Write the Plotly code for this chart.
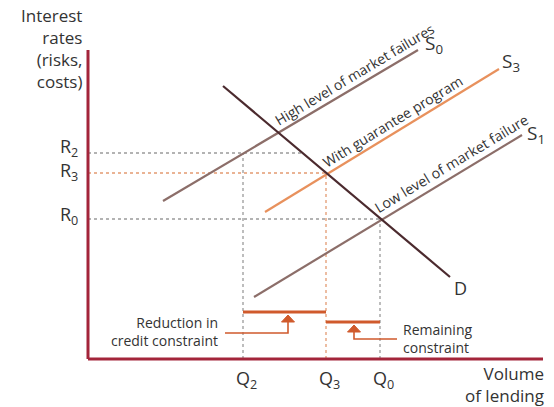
import plotly.graph_objects as go

# ---- data (arbitrary units: quantity on x, interest rate on y) ----
s0_x = [7.5, 33.0]
s0_y = [15.8, 30.9]
s3_x = [17.7, 41.1]
s3_y = [14.7, 29.0]
s1_x = [16.6, 43.4]
s1_y = [6.2, 22.4]
d_x = [13.5, 36.2]
d_y = [27.3, 8.2]

q_names = ["Q<sub>2</sub>", "Q<sub>3</sub>", "Q<sub>0</sub>"]
q_vals = [15.5, 23.8, 29.2]
r_names = ["R<sub>2</sub>", "R<sub>3</sub>", "R<sub>0</sub>"]
r_vals = [20.6, 18.6, 14.0]
r_ext = [21.5, 23.8, 29.2]          # horizontal guides end at demand curve
guide_colors = ["#9a9a9a", "#e39a72", "#9a9a9a"]

bar_levels = [4.7, 3.7]             # constraint bars
bar_from = [15.5, 23.8]
bar_to = [23.8, 29.2]

x_axis_end = 45.5
y_axis_end = 30.9

y_title = "Interest<br>rates<br>(risks,<br>costs)"
x_title = "Volume<br>of lending"

AX = "#a3253a"
BAR = "#d05a2c"
S_COL = "#8c6e69"
S3_COL = "#e8915d"
D_COL = "#4b2a2e"
TXT = "#333333"
FONT = "Open Sans"

fig = go.Figure()

def line(x, y, color, width, dash=None):
    fig.add_trace(go.Scatter(x=x, y=y, mode="lines", hoverinfo="skip",
                             line=dict(color=color, width=width, dash=dash)))

# guides
for i in range(3):
    line([0, r_ext[i]], [r_vals[i], r_vals[i]], guide_colors[i], 1.3, "3px,3px")
    line([q_vals[i], q_vals[i]], [0, r_vals[i]], guide_colors[i], 1.3, "3px,3px")

# curves
line(s0_x, s0_y, S_COL, 2.2)
line(s3_x, s3_y, S3_COL, 2.2)
line(s1_x, s1_y, S_COL, 2.2)
line(d_x, d_y, D_COL, 2.2)

# constraint bars
for i in range(2):
    line([bar_from[i], bar_to[i]], [bar_levels[i]] * 2, BAR, 3)

# arrows (elbow stems + triangle heads)
arrow_x = [20.0, 26.6]
arrow_tip = [4.4, 3.4]
arrow_corner = [2.6, 2.0]
arrow_end = [13.7, 30.9]
for i in range(2):
    base = arrow_tip[i] - 0.7
    line([arrow_end[i], arrow_x[i], arrow_x[i]], [arrow_corner[i], arrow_corner[i], base], BAR, 1.6)
    fig.add_trace(go.Scatter(x=[arrow_x[i] - 0.65, arrow_x[i] + 0.65, arrow_x[i], arrow_x[i] - 0.65],
                             y=[base, base, arrow_tip[i], base], mode="lines", fill="toself",
                             fillcolor=BAR, line=dict(color=BAR, width=1), hoverinfo="skip"))

# axes
line([0, 0], [0, y_axis_end], AX, 3)
line([0, x_axis_end], [0, 0], AX, 3)

def ann(x, y, text, size, xanchor="center", yanchor="middle", angle=0, align="center"):
    fig.add_annotation(x=x, y=y, text=text, showarrow=False, xanchor=xanchor, yanchor=yanchor,
                       textangle=angle, align=align,
                       font=dict(family=FONT, size=size, color=TXT))

ann(-0.4, 31.05, y_title, 17, xanchor="right", align="right")
ann(45.8, -2.5, x_title, 17, xanchor="right", align="right")
r_label_offsets = [0.6, 0.2, 0.4]
for n, v, o in zip(r_names, r_vals, r_label_offsets):
    ann(-0.8, v + o, n, 18, xanchor="right")
for n, v in zip(q_names, q_vals):
    ann(v + 0.3, -2.0, n, 18)
ann(37.2, 7.1, "D", 18)
ann(33.5, 31.5, "S<sub>0</sub>", 19, xanchor="left")
ann(41.2, 29.7, "S<sub>3</sub>", 19, xanchor="left")
ann(43.7, 22.5, "S<sub>1</sub>", 19, xanchor="left")

ann(26.6, 28.5, "High level of market failures", 14, angle=-31)
ann(30.4, 23.8, "With guarantee program", 14, angle=-31.5)
ann(36.3, 19.6, "Low level of market failure", 14.3, angle=-31)

ann(13.2, 2.8, "Reduction in<br>credit constraint", 14, xanchor="right", align="right")
ann(31.3, 2.1, "Remaining<br>constraint", 14, xanchor="left", align="left")

fig.update_layout(
    width=554, height=407, margin=dict(l=0, r=0, t=0, b=0),
    paper_bgcolor="white", plot_bgcolor="white", showlegend=False,
    xaxis=dict(range=[-8.8, 46.6], visible=False, fixedrange=True),
    yaxis=dict(range=[-4.8, 35.9], visible=False, fixedrange=True),
)

fig.write_html("out.html", config={"displayModeBar": False},
               post_script="document.body.style.margin='0';")
